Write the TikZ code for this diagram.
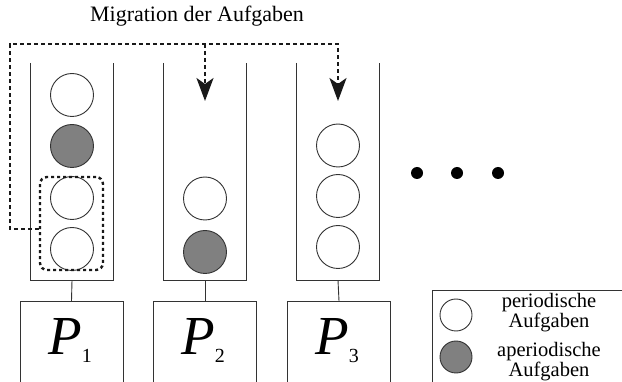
\documentclass[tikz,border=0pt]{standalone}
\usepackage{fontspec}
\setmainfont{Liberation Serif}
\usetikzlibrary{arrows.meta}
\begin{document}
\begin{tikzpicture}[x=1pt,y=-1pt,
  ln/.style={draw=black!80,line width=0.9pt},
  qbox/.style={minimum width=82pt,minimum height=217pt,inner sep=0pt},
  pbox/.style={ln,minimum width=103pt,minimum height=100pt,inner sep=0pt,anchor=north},
  wt/.style={circle,ln,fill=white,minimum size=43pt,inner sep=0pt},
  gt/.style={circle,ln,fill=black!50,minimum size=43pt,inner sep=0pt},
  lwt/.style={circle,ln,fill=white,minimum size=32pt,inner sep=0pt},
  lgt/.style={circle,ln,fill=black!50,minimum size=32pt,inner sep=0pt},
  dot/.style={circle,fill=black,minimum size=12pt,inner sep=0pt},
  mig/.style={draw=black!90,line width=2.4pt,dash pattern=on 4pt off 3pt},
  migarrow/.style={mig,-{Stealth[length=23pt,width=17pt,inset=6pt]}},
  plab/.style={inner sep=0pt},
  legtxt/.style={align=center,inner sep=0pt,font=\fontsize{20.5}{20}\selectfont}
]
\useasboundingbox (0,0) rectangle (622,382);
% title
\node[inner sep=0pt,font=\fontsize{22}{24}\selectfont] (title) at (197,16) {Migration der Aufgaben};
% queues
\node[qbox] (q1) at (72,171.5) {};
\node[qbox] (q2) at (205,171.5) {};
\node[qbox] (q3) at (338,171.5) {};
\foreach \q in {q1,q2,q3}{
  \draw[ln] (\q.north west) -- (\q.south west) -- (\q.south east) -- (\q.north east);
}
% tasks
\node[wt] (a1) at (72,95) {};
\node[gt] (a2) at (72,146) {};
\node[wt] (a3) at (72,198) {};
\node[wt] (a4) at (72,249) {};
\node[wt] (b1) at (205,198.5) {};
\node[gt] (b2) at (205,252) {};
\node[wt] (c1) at (338,145.5) {};
\node[wt] (c2) at (338,196) {};
\node[wt] (c3) at (338,247) {};
% dots
\node[dot] (d1) at (417,173) {};
\node[dot] (d2) at (457,173) {};
\node[dot] (d3) at (498,173) {};
% processors
\node[pbox] (p1) at (71.5,301) {};
\node[pbox] (p2) at (205,301) {};
\node[pbox] (p3) at (339,301) {};
\draw[ln] (q1.south) -- (p1.north);
\draw[ln] (q2.south) -- (p2.north);
\draw[ln] (q3.south) -- (p3.north);
\node[plab,anchor=base west] (p1l) at (48,355) {{\fontsize{55}{55}\selectfont\itshape P}{\fontsize{20}{20}\selectfont\raisebox{-8pt}{1}}};
\node[plab,anchor=base west] (p2l) at (181,355) {{\fontsize{55}{55}\selectfont\itshape P}{\fontsize{20}{20}\selectfont\raisebox{-8pt}{2}}};
\node[plab,anchor=base west] (p3l) at (315,355) {{\fontsize{55}{55}\selectfont\itshape P}{\fontsize{20}{20}\selectfont\raisebox{-8pt}{3}}};
% dashed group
\node[mig,dash pattern=on 3pt off 3pt,rounded corners=7pt,minimum width=63pt,minimum height=93pt,inner sep=0pt] (dbox) at (71.5,223.5) {};
% migration path
\coordinate (corner) at (10,44);
\coordinate (br) at (205,44);
\coordinate (t2) at (205,101);
\coordinate (t3) at (338,101);
\draw[migarrow] ([yshift=-5.5pt]dbox.west) -| (corner) -| (t3);
\draw[migarrow] (br) -- (t2);
% legend
\node[ln,minimum width=189.5pt,minimum height=100pt,inner sep=0pt,anchor=north west] (leg) at (432,290) {};
\node[lwt] (lw) at (456,315) {};
\node[lgt] (lg) at (456,357) {};
\node[legtxt] (lwtxt) at (549,313) {periodische\\Aufgaben};
\node[legtxt] (lgtxt) at (549,362) {aperiodische\\Aufgaben};
\end{tikzpicture}
\end{document}
